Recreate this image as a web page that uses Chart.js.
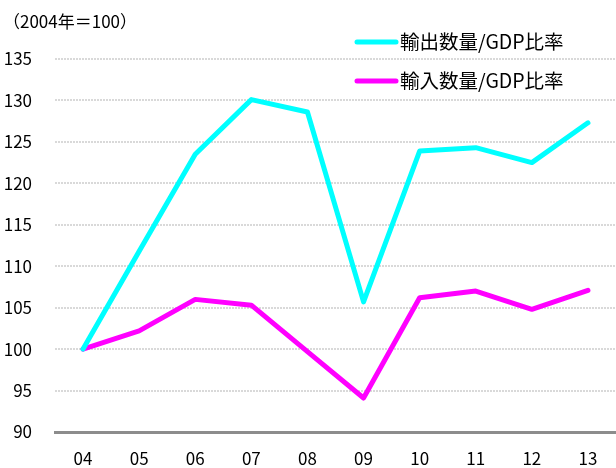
<!DOCTYPE html>
<html lang="ja">
<head>
<meta charset="utf-8">
<script src="https://cdn.jsdelivr.net/npm/chart.js@4"></script>
<style>
  html, body { margin: 0; padding: 0; background: #fff; }
  #wrap { position: relative; width: 616px; height: 468px; }
</style>
</head>
<body>
<div id="wrap"><canvas id="c"></canvas></div>
<script>
  // 2004年=100
  const NENDO = ["04", "05", "06", "07", "08", "09", "10", "11", "12", "13"];
  const YUSHUTSU = [100, 111.8, 123.5, 130.1, 128.6, 105.7, 123.9, 124.3, 122.5, 127.3];
  const YUNYU = [100, 102.2, 106.0, 105.3, 99.7, 94.1, 106.2, 107.0, 104.8, 107.1];
  const Y_TICKS = [90, 95, 100, 105, 110, 115, 120, 125, 130, 135];
  const TANI = "（2004年＝100）";

  const FONT = "'Noto Sans CJK JP', 'Noto Sans', sans-serif";

  // 単位表記と凡例（プロット内右上）
  const kazari = {
    id: "kazari",
    afterDraw(chart) {
      const ctx = chart.ctx;
      ctx.save();
      ctx.fillStyle = "#000";
      ctx.font = "17px " + FONT;
      ctx.textBaseline = "middle";
      ctx.textAlign = "left";
      ctx.fillText(TANI, 3, 22);
      ctx.font = "19.5px " + FONT;
      chart.data.datasets.forEach((ds, i) => {
        const y = 42 + i * 39;
        ctx.strokeStyle = ds.borderColor;
        ctx.lineWidth = 5;
        ctx.lineCap = "round";
        ctx.beginPath(); ctx.moveTo(357, y); ctx.lineTo(396, y); ctx.stroke();
        ctx.fillText(ds.label, 400, y);
      });
      ctx.restore();
    }
  };

  new Chart(document.getElementById("c"), {
    type: "line",
    data: {
      labels: NENDO,
      datasets: [
        { label: "輸出数量/GDP比率", data: YUSHUTSU, borderColor: "#00ffff" },
        { label: "輸入数量/GDP比率", data: YUNYU, borderColor: "#ff00ff" }
      ]
    },
    options: {
      responsive: true, maintainAspectRatio: false, animation: false,
      layout: { padding: { top: 59, right: 0, bottom: 0, left: 0 } },
      elements: {
        line: { borderWidth: 5, tension: 0, borderJoinStyle: "round", borderCapStyle: "round" },
        point: { radius: 0 }
      },
      plugins: { legend: { display: false }, tooltip: { enabled: false } },
      scales: {
        x: {
          offset: true,
          afterFit(s) { s.height = 36; },
          grid: { display: false, drawTicks: false },
          border: { display: true, color: "#8c8c8c", width: 3 },
          ticks: { color: "#000", font: { family: FONT, size: 17 }, padding: 16 }
        },
        y: {
          min: 90, max: 135,
          afterFit(s) { s.width = 55; },
          afterBuildTicks(s) { s.ticks = Y_TICKS.map(v => ({ value: v })); },
          grid: { color: "#d9d9d9", lineWidth: 2, drawTicks: false },
          border: { display: false, dash: [2, 1] },
          ticks: { color: "#000", font: { family: FONT, size: 17 }, padding: 23 }
        }
      }
    },
    plugins: [kazari]
  });
</script>
</body>
</html>
